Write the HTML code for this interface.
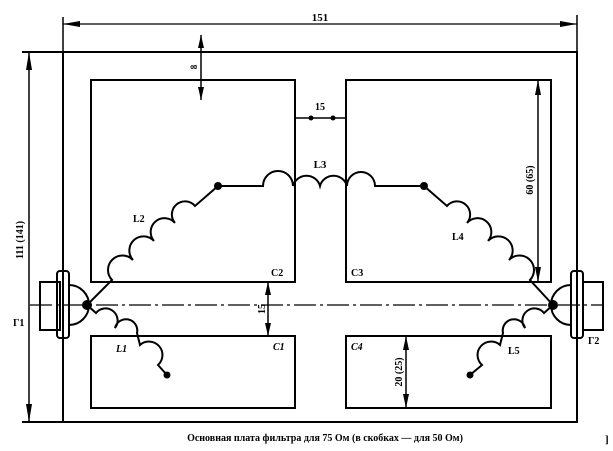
<!DOCTYPE html>
<html><head><meta charset="utf-8"><style>
html,body{margin:0;padding:0;background:#fff;}
svg{display:block;}
text{font-family:"Liberation Serif",serif;font-weight:bold;fill:#000;}
</style></head><body>
<svg width="613" height="451" viewBox="0 0 613 451" xmlns="http://www.w3.org/2000/svg">
<g stroke="#000" fill="none" stroke-width="2">
<!-- board -->
<rect x="63" y="52" width="514" height="370"/>
<line x1="22" y1="52" x2="63" y2="52"/>
<line x1="22" y1="422" x2="63" y2="422"/>
<!-- top dim -->
<line x1="63" y1="17" x2="63" y2="52" stroke-width="1.5"/>
<line x1="577" y1="15" x2="577" y2="52" stroke-width="1.5"/>
<line x1="63" y1="24" x2="577" y2="24" stroke-width="1.2"/>
<!-- left dim -->
<line x1="29" y1="52" x2="29" y2="422" stroke-width="1.5"/>
<!-- boxes -->
<rect x="91" y="80" width="204" height="202"/>
<rect x="346" y="80" width="205" height="202"/>
<rect x="91" y="336" width="204" height="72"/>
<rect x="346" y="336" width="205" height="72"/>
<line x1="538" y1="80" x2="538" y2="282" stroke-width="1.5"/>
<!-- 8 dim -->
<line x1="201" y1="35" x2="201" y2="100" stroke-width="1.5"/>
<!-- 15 top -->
<line x1="295" y1="118" x2="346" y2="118" stroke-width="1.5"/>
<!-- 15 vertical -->
<line x1="268" y1="282" x2="268" y2="336" stroke-width="1.5"/>
<!-- 20 dim -->
<line x1="406" y1="336" x2="406" y2="408" stroke-width="1.5"/>
<!-- centerline -->
<line x1="30" y1="305" x2="603" y2="305" stroke-width="1.3" stroke-dasharray="22,4,3,4"/>
<!-- connectors -->
<rect x="40" y="282" width="20" height="48" stroke-width="2"/>
<rect x="57" y="271" width="12" height="67" rx="3"/>
<path d="M69 285 A20 20 0 0 1 69 325"/>
<rect x="583" y="282" width="20" height="48"/>
<rect x="571" y="271" width="12" height="67" rx="3"/>
<path d="M571 285 A20 20 0 0 0 571 325"/>
<!-- coils -->
<path d="M87 305 L112 280 A12 12 0 0 1 133 260 A12 12 0 0 1 154 241 A12 12 0 0 1 175 223 A12 12 0 0 1 195 206 L218 186 L263 186 A14 14 0 0 1 293 186 A14 14 0 0 1 320 186 A14 14 0 0 1 347 186 A14 14 0 0 1 375 186 L424 186 L447 206 A12 12 0 0 1 467 223 A12 12 0 0 1 488 241 A12 12 0 0 1 509 260 A12 12 0 0 1 530 280 L553 305"/>
<path d="M87 305 L96 313 A10 10 0 0 1 115 328 A10 10 0 0 1 137 333 L140 345 A11 11 0 0 1 158 365 L167 375"/>
<path d="M553 305 L544 313 A10 10 0 0 0 525 328 A10 10 0 0 0 503 333 L500 345 A11 11 0 0 0 482 365 L470 375"/>
</g>
<g fill="#000">
<circle cx="218" cy="186" r="4"/><circle cx="424" cy="186" r="4"/>
<circle cx="87" cy="305" r="5"/><circle cx="553" cy="305" r="5"/>
<circle cx="167" cy="375" r="3.5"/><circle cx="470" cy="375" r="3.5"/>
<!-- arrowheads -->
<path d="M63 24 L80 21 L80 27Z"/><path d="M577 24 L560 21 L560 27Z"/>
<path d="M29 52 L26 70 L32 70Z"/><path d="M29 422 L26 404 L32 404Z"/>
<path d="M201 35 L198 48 L204 48Z"/><path d="M201 100 L198 87 L204 87Z"/>
<path d="M268 282 L265 295 L271 295Z"/><path d="M268 336 L265 323 L271 323Z"/>
<path d="M538 80 L535 95 L541 95Z"/><path d="M538 282 L535 267 L541 267Z"/>
<path d="M406 336 L403 350 L409 350Z"/><path d="M406 408 L403 394 L409 394Z"/>
<circle cx="311" cy="118" r="2.5"/><circle cx="333" cy="118" r="2.5"/>
</g>
<g font-size="11">
<text x="320" y="21" text-anchor="middle">151</text>
<text x="320" y="110" text-anchor="middle" font-size="10">15</text>
<text x="320" y="168" text-anchor="middle">L3</text>
<text x="133" y="222" font-size="10">L2</text>
<text x="452" y="240" font-size="10">L4</text>
<text x="271" y="276" font-size="10">C2</text>
<text x="351" y="276" font-size="10">C3</text>
<text x="273" y="350" font-size="10" font-style="italic">C1</text>
<text x="351" y="350" font-size="10" font-style="italic">C4</text>
<text x="116" y="352" font-size="10" font-style="italic">L1</text>
<text x="508" y="354" font-size="10">L5</text>
<text x="13" y="326" font-size="10">Г1</text>
<text x="588" y="344" font-size="10">Г2</text>
<text transform="translate(23,240) rotate(-90)" text-anchor="middle" font-size="10">111 (141)</text>
<text transform="translate(197,67) rotate(-90)" text-anchor="middle" font-size="9">8</text>
<text transform="translate(265,309) rotate(-90)" text-anchor="middle" font-size="10">15</text>
<text transform="translate(402,372) rotate(-90)" text-anchor="middle" font-size="10">20 (25)</text>
<text transform="translate(533,180) rotate(-90)" text-anchor="middle" font-size="10">60 (65)</text>
<text x="325" y="441" text-anchor="middle" font-size="10">Основная плата фильтра для 75 Ом (в скобках — для 50 Ом)</text>
<text x="605" y="443" font-size="11" font-weight="normal">]</text>
</g>
</svg>
</body></html>
